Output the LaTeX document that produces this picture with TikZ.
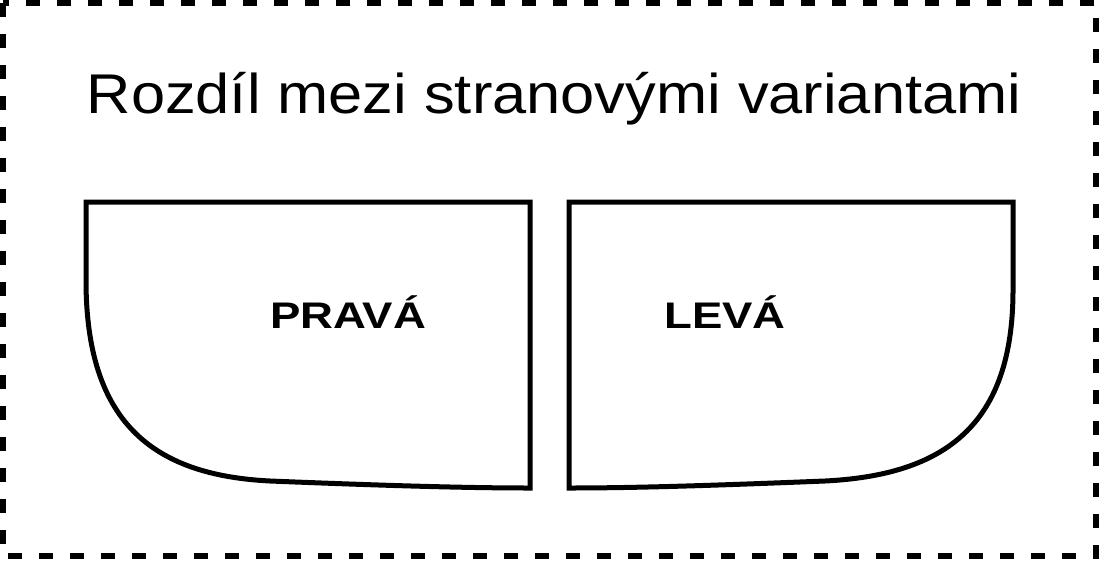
\documentclass[tikz,border=0pt]{standalone}
\usepackage{fontspec}
\setmainfont{Liberation Sans}
\tikzset{
  frame/.style={line width=6pt,dash pattern=on 14pt off 17pt},
  cup/.style={line width=5pt},
  side/.style={font=\fontsize{37}{44}\selectfont\bfseries,anchor=base,inner sep=0pt,xscale=1.23},
}
\begin{document}
\begin{tikzpicture}[x=1pt,y=-1pt]
    \useasboundingbox (0,0) rectangle (1100,560);
    \draw [frame] (3,3) rectangle (1096,556);
    \node (title) [anchor=base,inner sep=0pt,xscale=1.096,font=\fontsize{56}{66}\selectfont] at (554,113) {Rozdíl mezi stranovými variantami};
    % pravá
    \draw [cup] (86,202) -- (530,202) -- (530,488)
      .. controls (460,488) and (370,485) .. (270,481)
      .. controls (150,475) and (86,420) .. (86,280) -- cycle;
    % levá
    \draw [cup] (569,202) -- (1013,202) -- (1013,290)
      .. controls (1013,425) and (945,475) .. (825,481)
      .. controls (725,485) and (640,488) .. (569,488) -- cycle;
    \node (prava) [side] at (348,328) {PRAVÁ};
    \node (leva) [side] at (725,328) {LEVÁ};
  \end{tikzpicture}
\end{document}
